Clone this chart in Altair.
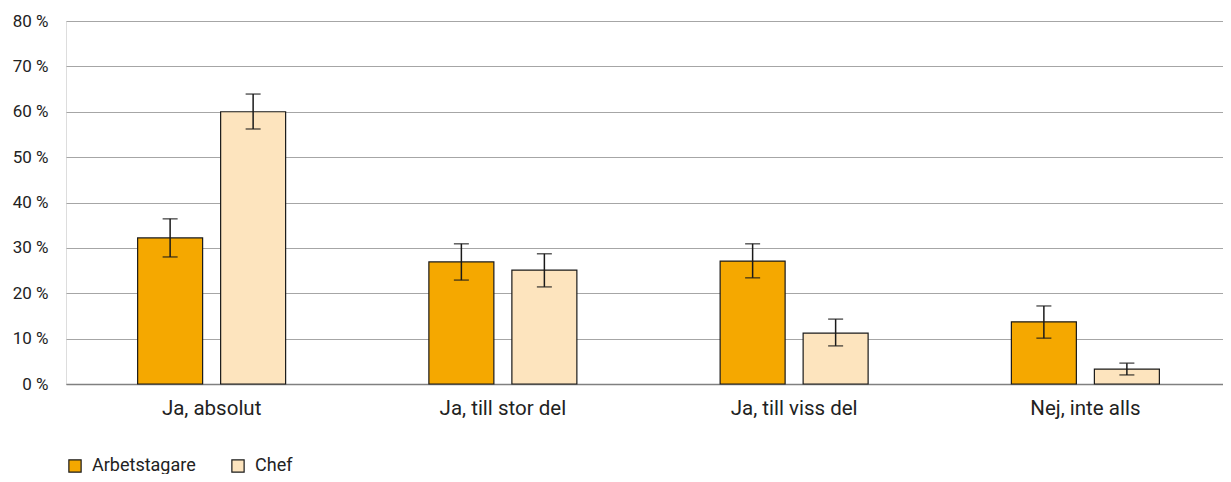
import altair as alt
import pandas as pd

categories = ["Ja, absolut", "Ja, till stor del", "Ja, till viss del", "Nej, inte alls"]
series = ["Arbetstagare", "Chef"]
arb = [32.2, 26.9, 27.1, 13.7]
arb_lo = [28.0, 22.9, 23.4, 10.1]
arb_hi = [36.4, 30.9, 30.9, 17.2]
chef = [60.0, 25.1, 11.2, 3.3]
chef_lo = [56.2, 21.4, 8.4, 2.0]
chef_hi = [63.9, 28.7, 14.3, 4.6]
colors = ["#F5A800", "#FDE4BE"]

rows = []
for i, c in enumerate(categories):
    rows.append({"cat": c, "serie": series[0], "v": arb[i], "lo": arb_lo[i], "hi": arb_hi[i]})
    rows.append({"cat": c, "serie": series[1], "v": chef[i], "lo": chef_lo[i], "hi": chef_hi[i]})
df = pd.DataFrame(rows)

FONT = "Roboto"

x = alt.X("cat:N", sort=categories, title=None,
          scale=alt.Scale(paddingInner=0, paddingOuter=0),
          axis=alt.Axis(labelAngle=0, ticks=False, domain=True, domainColor="#808080",
                        domainWidth=1.5, labelFontSize=20.5, labelColor="#222222",
                        labelPadding=14, labelFont=FONT))
xo = alt.XOffset("serie:N", sort=series,
                 scale=alt.Scale(paddingInner=0.217, paddingOuter=0.863))
y = alt.Y("v:Q", title=None,
          scale=alt.Scale(domain=[0, 80], nice=False),
          axis=alt.Axis(values=list(range(0, 81, 10)), domain=False, ticks=False,
                        labelExpr="datum.value + ' %'", labelFontSize=17,
                        labelColor="#222222", labelPadding=18, labelFont=FONT,
                        gridColor="#a6a6a6", gridWidth=1.2))

base = alt.Chart(df)

bars = base.mark_bar(stroke="#1a1a1a", strokeWidth=1.2).encode(
    x=x, xOffset=xo, y=y,
    color=alt.Color("serie:N", sort=series, title=None,
                    scale=alt.Scale(domain=series, range=colors),
                    legend=alt.Legend(orient="none", legendX=0, legendY=436,
                                      direction="horizontal", symbolType="square",
                                      symbolSize=150, symbolStrokeColor="#1a1a1a",
                                      symbolStrokeWidth=1.2, symbolOpacity=1,
                                      labelFontSize=18, labelFont=FONT,
                                      labelColor="#222222", columnPadding=33,
                                      labelOffset=8)),
)

rule = base.mark_rule(color="#1a1a1a", strokeWidth=1.5).encode(
    x=x, xOffset=xo, y="lo:Q", y2="hi:Q")
cap_lo = base.mark_tick(color="#1a1a1a", size=15, thickness=1.5).encode(
    x=x, xOffset=xo, y="lo:Q")
cap_hi = base.mark_tick(color="#1a1a1a", size=15, thickness=1.5).encode(
    x=x, xOffset=xo, y="hi:Q")

chart = alt.layer(bars, rule, cap_lo, cap_hi).properties(
    width=1165, height=363,
    autosize=alt.AutoSizeParams(type="none"),
    padding={"left": 58, "top": 13, "right": -8, "bottom": 90},
).configure_view(stroke=None).configure(font=FONT)

chart.save("out.html", embed_options={"renderer": "svg", "actions": False})
